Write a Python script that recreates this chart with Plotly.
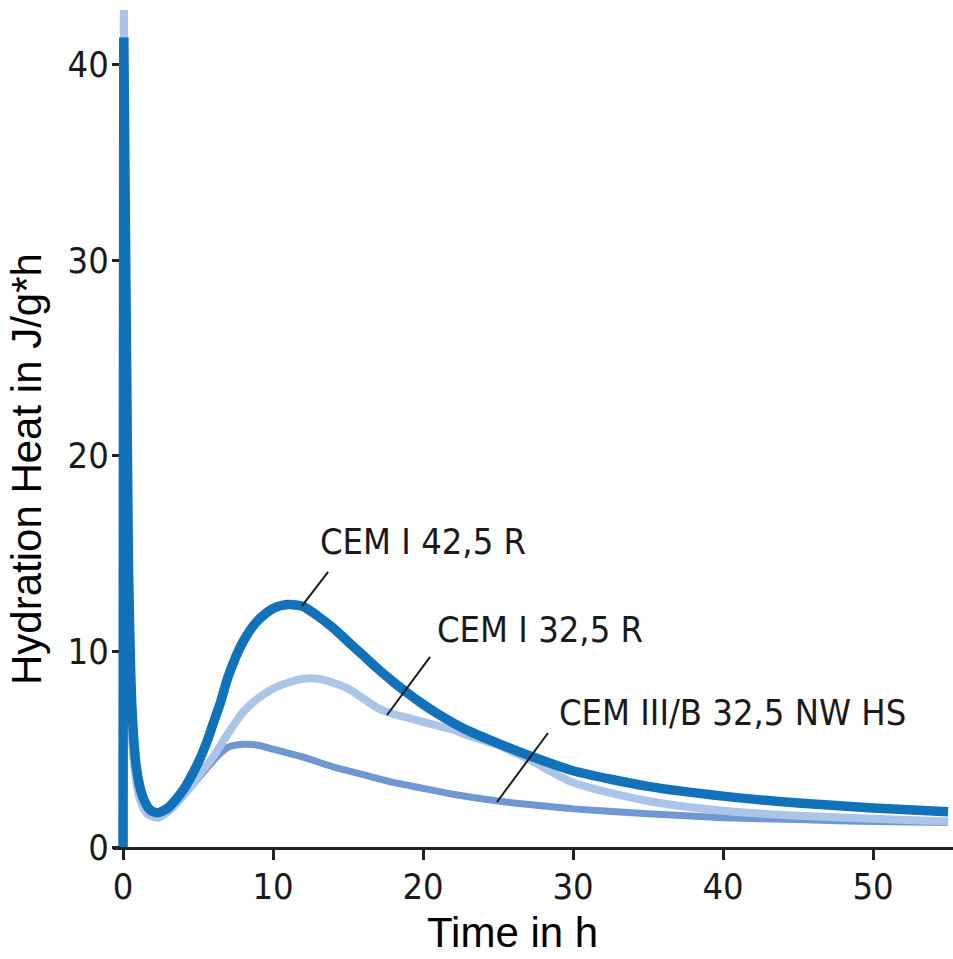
import plotly.graph_objects as go

# ---- data ----
t_42 = [0, 0.05, 0.35, 0.6, 0.9, 1.3, 1.8, 2.3, 3, 4, 5, 5.6, 6, 6.5, 7, 8, 9, 10, 11, 12, 13, 14, 15, 16, 17, 18, 19, 20, 21, 22, 23, 25, 27, 30, 35, 40, 45, 50, 55]
v_42 = [0, 41.4, 15, 7, 4, 2.6, 1.9, 1.75, 2.0, 2.9, 4.3, 5.4, 6.3, 7.4, 8.7, 10.5, 11.6, 12.2, 12.4, 12.3, 11.8, 11.2, 10.5, 9.8, 9.1, 8.45, 7.85, 7.3, 6.8, 6.35, 5.95, 5.3, 4.7, 3.9, 3.1, 2.6, 2.25, 2.0, 1.8]

t_32 = [0, 0.05, 0.4, 0.7, 1.1, 1.6, 2.3, 3, 4, 5, 6, 6.5, 7, 8, 9, 10, 11, 12, 13, 14, 15, 16, 17, 18, 19, 20, 21, 22, 23, 25, 27, 30, 35, 40, 45, 50, 55]
v_32 = [0, 44, 9, 4.5, 2.5, 1.7, 1.5, 1.8, 2.6, 3.6, 4.6, 5.2, 5.8, 6.9, 7.6, 8.1, 8.4, 8.6, 8.6, 8.4, 8.1, 7.6, 7.1, 6.8, 6.6, 6.4, 6.2, 6.0, 5.7, 5.2, 4.5, 3.3, 2.35, 1.85, 1.6, 1.45, 1.3]

t_3b = [0, 0.05, 0.4, 0.7, 1.1, 1.6, 2.3, 3, 4, 5, 6, 6.5, 7, 8, 9, 10, 11, 12, 14, 16, 18, 20, 22, 25, 28, 30, 35, 40, 45, 50, 55]
v_3b = [0, 40, 9, 4.5, 2.5, 1.7, 1.5, 1.8, 2.6, 3.5, 4.4, 4.8, 5.1, 5.25, 5.2, 5.0, 4.8, 4.6, 4.1, 3.7, 3.3, 3.0, 2.7, 2.35, 2.1, 1.95, 1.7, 1.5, 1.4, 1.3, 1.25]

series_names = ["CEM III/B 32,5 NW HS", "CEM I 32,5 R", "CEM I 42,5 R"]
series_colors = ["#6f98d3", "#abc5e9", "#1171b9"]
series_widths = [7, 8, 9.5]

x_ticks = [0, 10, 20, 30, 40, 50]
y_ticks = [0, 10, 20, 30, 40]

# label text, label position, leader line (from curve point to label)
labels = ["CEM I 42,5 R", "CEM I 32,5 R", "CEM III/B 32,5 NW HS"]
label_x = [20.0, 27.8, 40.6]
label_y = [15.6, 11.1, 6.9]
leader_x0 = [11.93, 17.6, 24.93]
leader_y0 = [12.33, 6.75, 2.30]
leader_x1 = [13.67, 20.47, 28.33]
leader_y1 = [14.07, 9.72, 5.83]

W, H = 953, 959
ML, MR, MT, MB = 113, 0, 10, 112
PW, PH = W - ML - MR, H - MT - MB

fig = go.Figure()
for t, v, name, col, lw in zip([t_3b, t_32, t_42], [v_3b, v_32, v_42], series_names, series_colors, series_widths):
    fig.add_trace(go.Scatter(x=t, y=v, mode="lines", name=name,
                             line=dict(color=col, width=lw, shape="spline", smoothing=0.7),
                             showlegend=False, hoverinfo="skip"))

narrow = "DejaVu Sans Condensed, Liberation Sans Narrow, sans-serif"
regular = "Liberation Sans, Arial, sans-serif"

for i, txt in enumerate(labels):
    fig.add_shape(type="line", xref="x", yref="y",
                  x0=leader_x0[i], y0=leader_y0[i], x1=leader_x1[i], y1=leader_y1[i],
                  line=dict(color="#1a1a1a", width=2))
    fig.add_annotation(x=label_x[i], y=label_y[i], xref="x", yref="y", text=txt,
                       showarrow=False, xanchor="center", yanchor="middle",
                       font=dict(family=narrow, size=36, color="#1a1a1a"))

# axis titles
fig.add_annotation(text="Hydration Heat in J/g*h", xref="paper", yref="paper",
                   x=(27 - ML) / PW, y=(H - MB - 469) / PH,
                   textangle=-90, showarrow=False, xanchor="center", yanchor="middle",
                   font=dict(family=regular, size=42, color="black"))
fig.add_annotation(text="Time in h", xref="paper", yref="paper",
                   x=(512 - ML) / PW, y=(H - MB - 958) / PH,
                   showarrow=False, xanchor="center", yanchor="bottom",
                   font=dict(family=regular, size=42, color="black"))

fig.update_layout(
    width=W, height=H,
    margin=dict(l=ML, r=MR, t=MT, b=MB, pad=0),
    paper_bgcolor="white", plot_bgcolor="white",
    xaxis=dict(range=[-0.67, 55.33], showgrid=False, zeroline=False,
               showline=True, linecolor="#222", linewidth=3,
               ticks="outside", ticklen=10, tickwidth=3, tickcolor="#222",
               ticklabelstandoff=-4,
               tickvals=x_ticks, ticktext=[str(v) for v in x_ticks],
               tickfont=dict(family=narrow, size=36, color="#1a1a1a")),
    yaxis=dict(range=[0, 42.8], showgrid=False, zeroline=False, showline=False,
               anchor="free", position=6 / PW,
               ticks="outside", ticklen=7, tickwidth=3, tickcolor="#222",
               ticklabelstandoff=-4,
               tickvals=y_ticks, ticktext=[str(v) for v in y_ticks],
               tickfont=dict(family=narrow, size=36, color="#1a1a1a")),
)

fig.write_html("out.html")
